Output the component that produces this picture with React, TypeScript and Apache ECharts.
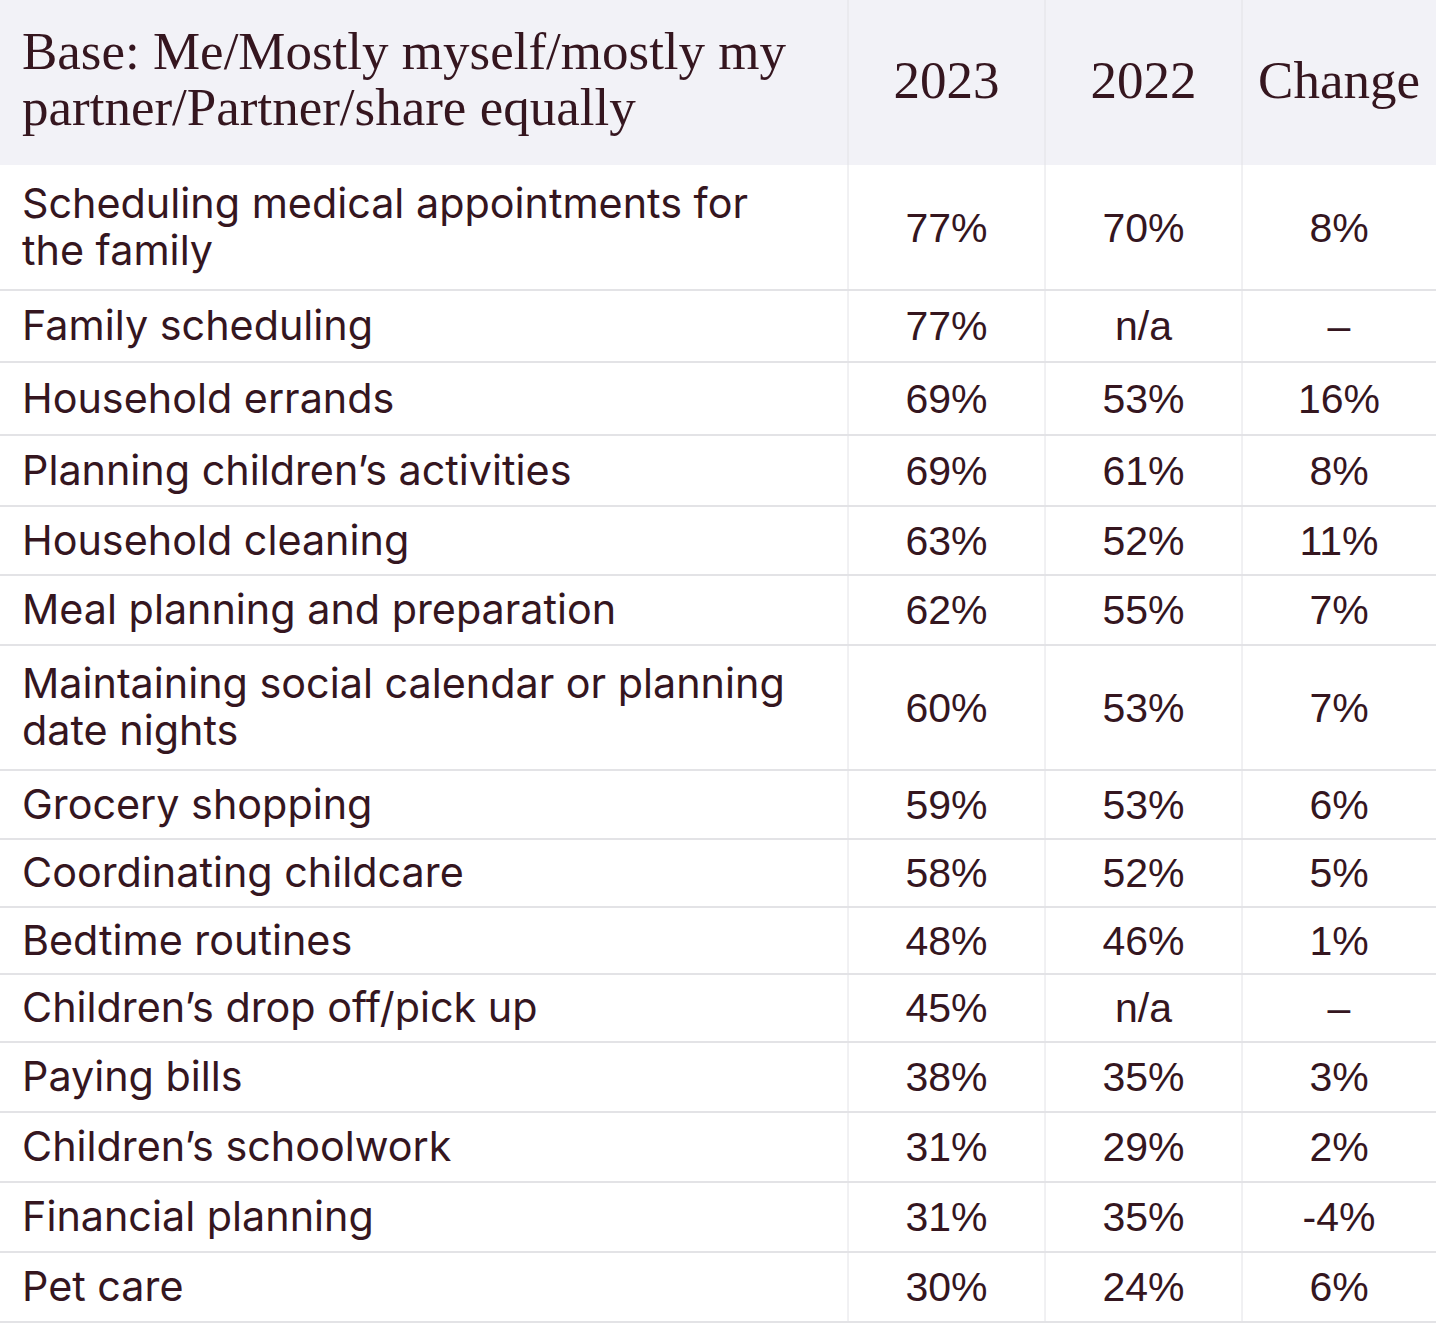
import React, { useEffect, useRef } from "react";
import * as echarts from "echarts";

const headerLines = ["Base: Me/Mostly myself/mostly my", "partner/Partner/share equally"];
const columns = ["2023", "2022", "Change"];
const tasks = [
  "Scheduling medical appointments for\nthe family",
  "Family scheduling",
  "Household errands",
  "Planning children\u2019s activities",
  "Household cleaning",
  "Meal planning and preparation",
  "Maintaining social calendar or planning\ndate nights",
  "Grocery shopping",
  "Coordinating childcare",
  "Bedtime routines",
  "Children\u2019s drop off/pick up",
  "Paying bills",
  "Children\u2019s schoolwork",
  "Financial planning",
  "Pet care",
];
const values2023: (number | null)[] = [77, 77, 69, 69, 63, 62, 60, 59, 58, 48, 45, 38, 31, 31, 30];
const values2022: (number | null)[] = [70, null, 53, 61, 52, 55, 53, 53, 52, 46, null, 35, 29, 35, 24];
const changes: (number | null)[] = [8, null, 16, 8, 11, 7, 7, 6, 5, 1, null, 3, 2, -4, 6];

// layout (row heights in px)
const rowHeights = [125, 72, 73, 71, 69, 70, 125, 69, 68, 67, 68, 70, 70, 70, 70];

const TEXT = "#35161f";
const SANS = "Inter, 'Open Sans', 'Liberation Sans', Arial, sans-serif";
const NUM = "'Liberation Sans', Arial, sans-serif";
const SERIF = "'Liberation Serif', 'Times New Roman', serif";

export default function App() {
  const ref = useRef<HTMLDivElement>(null);
  useEffect(() => {
    document.body.style.margin = "0";
    const chart = echarts.init(ref.current!, null, { renderer: "svg" });

    const tableRight = 1436;
    const colEdges = [848, 1045, 1242, tableRight];
    const headerH = 165;
    const bodyLine = 47;

    const els: any[] = [];
    els.push({ type: "rect", shape: { x: 0, y: 0, width: tableRight, height: headerH }, style: { fill: "#f2f2f7" }, silent: true });

    const text = (x: number, y: number, t: string, opts: any = {}) => ({
      type: "text",
      x,
      y,
      silent: true,
      style: {
        text: t,
        fill: TEXT,
        fontFamily: opts.family || SANS,
        fontSize: opts.size || 41.3,
        fontWeight: opts.weight || "normal",
        lineHeight: opts.lineHeight || 44,
        align: opts.align || "left",
        verticalAlign: "middle",
        textAlign: opts.align || "left",
        textVerticalAlign: "middle",
      },
    });

    // header
    els.push(text(22, 79, headerLines.join("\n"), { family: SERIF, size: 53, lineHeight: 56 }));
    columns.forEach((c, i) => {
      const cx = (colEdges[i] + colEdges[i + 1]) / 2;
      els.push(text(cx, 80, c, { family: SERIF, size: 53, align: "center" }));
    });

    const fmt = (v: number | null, missing: string) => (v == null ? missing : `${v}%`);

    let y = headerH;
    const lineYs: number[] = [];
    tasks.forEach((t, r) => {
      const h = rowHeights[r];
      const cy = y + h / 2;
      const lines = t.split("\n");
      lines.forEach((ln, k) => {
        const ly = cy + (k - (lines.length - 1) / 2) * bodyLine - 1;
        els.push(text(22, ly, ln, { lineHeight: 42 }));
      });
      const cells = [fmt(values2023[r], "n/a"), fmt(values2022[r], "n/a"), fmt(changes[r], "\u2013")];
      cells.forEach((c, i) => {
        const cx = (colEdges[i] + colEdges[i + 1]) / 2;
        els.push(text(cx, cy, c, { align: "center", family: NUM, size: 41 }));
      });
      y += h;
      lineYs.push(y);
    });

    lineYs.forEach((ly) => {
      els.push({ type: "line", silent: true, shape: { x1: 0, y1: ly, x2: tableRight, y2: ly }, style: { stroke: "#e3e3e6", lineWidth: 2 } });
    });
    colEdges.slice(0, 3).forEach((cx) => {
      els.push({ type: "line", silent: true, shape: { x1: cx, y1: 0, x2: cx, y2: y }, style: { stroke: "#e2e2e6", lineWidth: 1 } });
    });

    chart.setOption({ animation: false, graphic: { elements: els } });
    return () => chart.dispose();
  }, []);
  return <div ref={ref} style={{ width: 1440, height: 1335, background: "#fff" }} />;
}
